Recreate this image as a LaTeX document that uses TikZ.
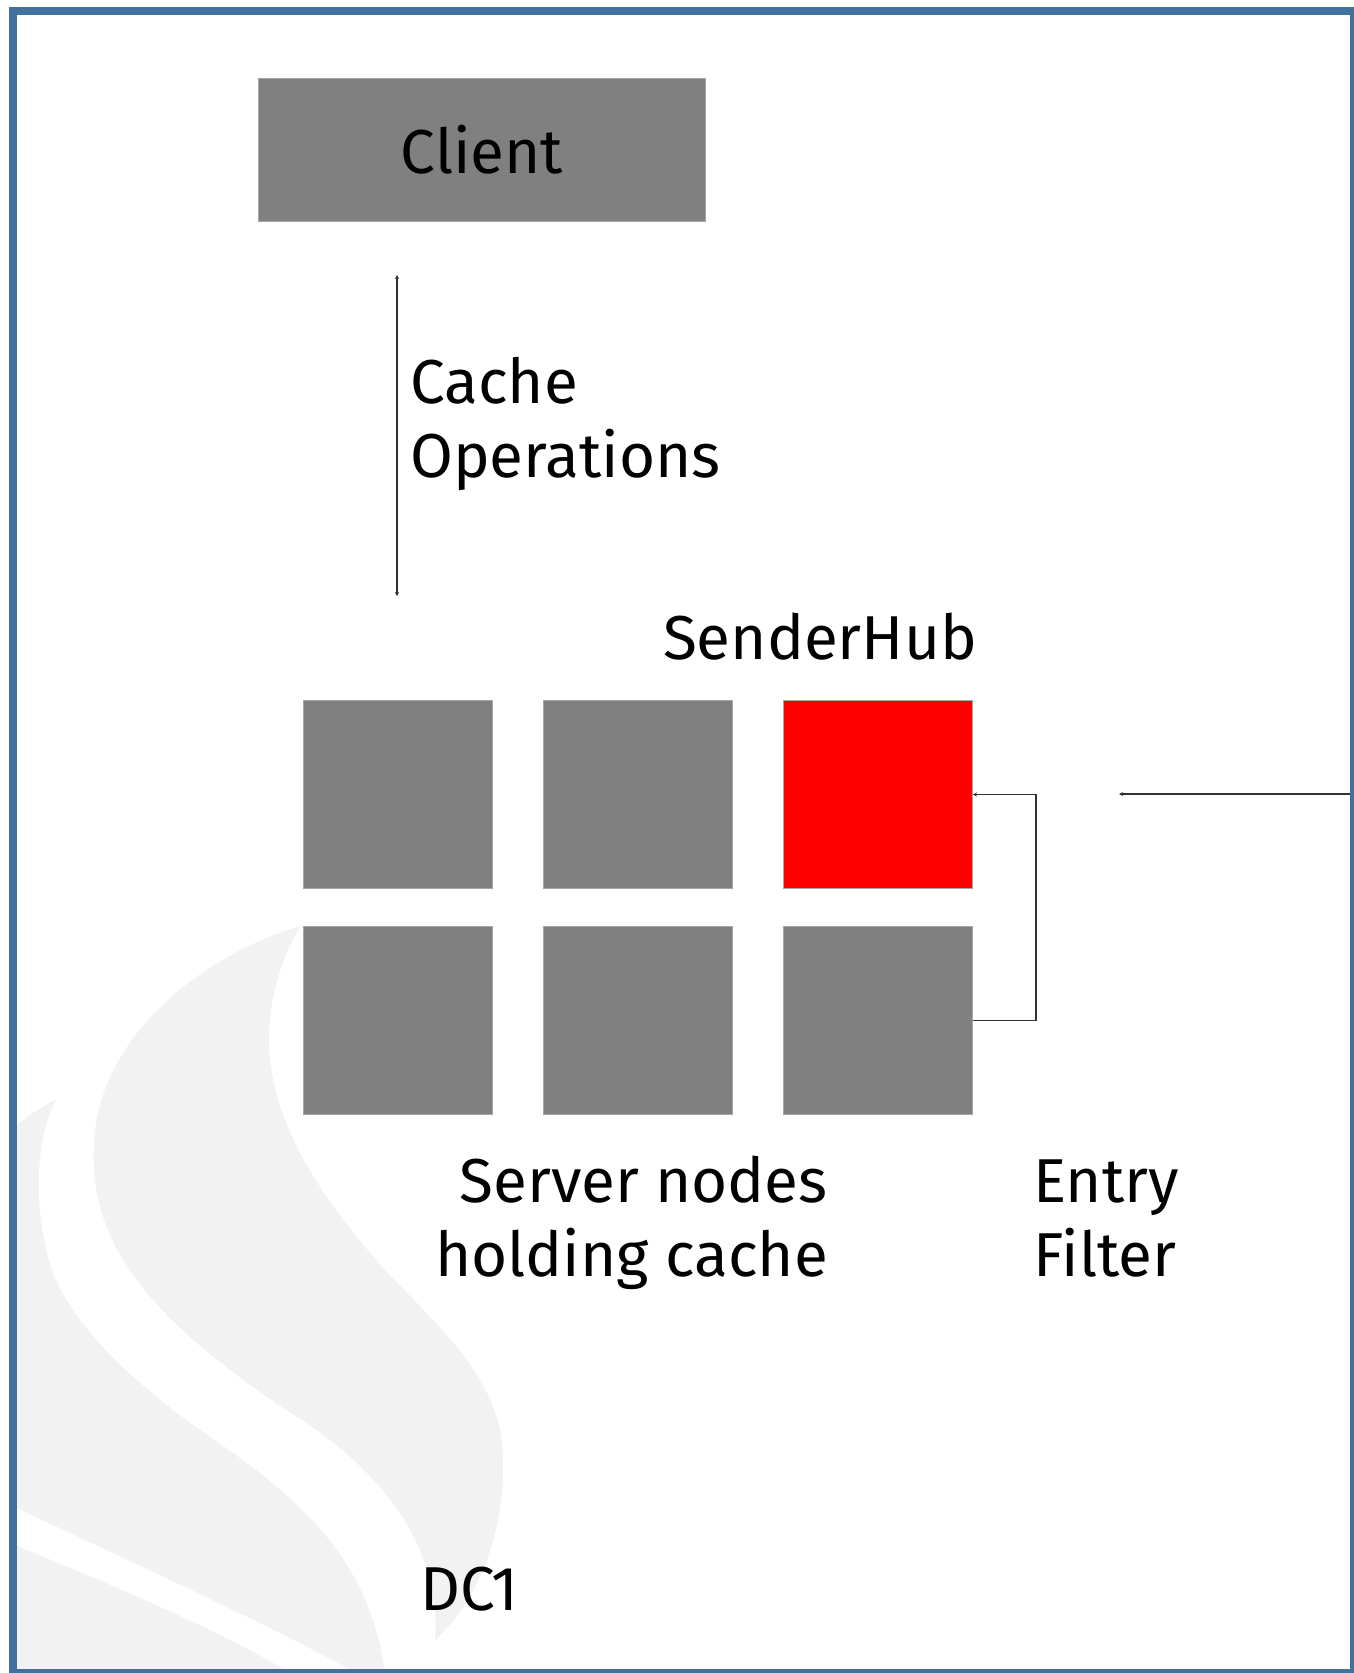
\documentclass[tikz,border=0pt]{standalone}
\usepackage{fontspec}
\setmainfont{Fira Sans}
\usetikzlibrary{arrows.meta}
\definecolor{frameblue}{HTML}{41719C}
\definecolor{boxgray}{HTML}{808080}
\definecolor{boxedge}{HTML}{A6A6A6}
\definecolor{hubred}{HTML}{FF0000}
\definecolor{wmark}{HTML}{F2F2F2}
\tikzset{
  server/.style={draw=boxedge, line width=1pt, fill=boxgray, inner sep=0pt,
    minimum width=189pt, minimum height=188pt, anchor=north west},
  hub/.style={server, fill=hubred},
  caption/.style={inner sep=0pt, font=\fontsize{62}{74}\selectfont, text=black},
  conn/.style={draw=black!80, line width=1.2pt},
  tinytip/.tip={Stealth[length=4pt,width=4pt]}
}
\begin{document}
\begin{tikzpicture}[x=1pt,y=-1pt]
\useasboundingbox (0,0) rectangle (1354,1673);
\clip (0,0) rectangle (1354,1673);

% faint flame watermark in the lower left
\begin{scope}
\clip (17,15) rectangle (1350,1669);
% inner flame
\fill[wmark] (301,926) .. controls (200,955) and (96,1040) .. (94,1146)
  .. controls (88,1250) and (160,1330) .. (314,1428)
  .. controls (400,1490) and (440,1560) .. (435,1640)
  .. controls (490,1590) and (512,1500) .. (500,1430)
  .. controls (485,1360) and (420,1310) .. (377,1261)
  .. controls (320,1195) and (268,1120) .. (269,1036)
  .. controls (270,990) and (285,950) .. (301,926) -- cycle;
% outer flame
\fill[wmark] (57,1099) .. controls (38,1130) and (30,1200) .. (52,1271)
  .. controls (75,1330) and (140,1390) .. (222,1445)
  .. controls (300,1500) and (370,1560) .. (385,1673)
  -- (355,1673) .. controls (300,1640) and (150,1570) .. (10,1505)
  -- (10,1132) .. controls (20,1122) and (35,1110) .. (57,1099) -- cycle;
% lower tongue
\fill[wmark] (10,1543) .. controls (100,1580) and (220,1630) .. (290,1673)
  -- (10,1673) -- cycle;
\end{scope}

% outer frame
\draw[frameblue, line width=8pt] (13,11) rectangle (1354,1673);

% client
\node[server, caption, minimum width=447pt, minimum height=143pt]
  (client) at (258,78) {Client};

% server grid
\node[server] (s11) at (303,700) {};
\node[server] (s12) at (543,700) {};
\node[hub]    (s13) at (783,700) {};
\node[server] (s21) at (303,926) {};
\node[server] (s22) at (543,926) {};
\node[server] (s23) at (783,926) {};

% cache operations link
\coordinate (opTop) at (397,275);
\coordinate (opBot) at (397,596);
\draw[conn, tinytip-tinytip] (opTop) -- (opBot);

% entry filter loop between the two right-hand nodes
\coordinate (efx) at (1036,0);
\draw[conn, tinytip-] (s13.east) -- (s13.east -| efx) -- (s23.east -| efx) -- (s23.east);

% link out to the remote side
\coordinate (wanL) at (1119,794);
\coordinate (wanR) at (1350,794);
\draw[conn, tinytip-] (wanL) -- (wanR);

% labels (multi-line ones are anchored on their last baseline)
\node[caption, anchor=base west, align=left] (ops) at (410,477) {Cache\\Operations};
\node[caption, anchor=base west] (hubtxt) at (663,659) {SenderHub};
\node[caption, anchor=base east, align=right] (srvtxt) at (828,1276) {Server nodes\\holding cache};
\node[caption, anchor=base west, align=left] (eftxt) at (1033,1276) {Entry\\Filter};
\node[caption, anchor=base west] (dc) at (420,1610) {DC1};
\end{tikzpicture}
\end{document}
